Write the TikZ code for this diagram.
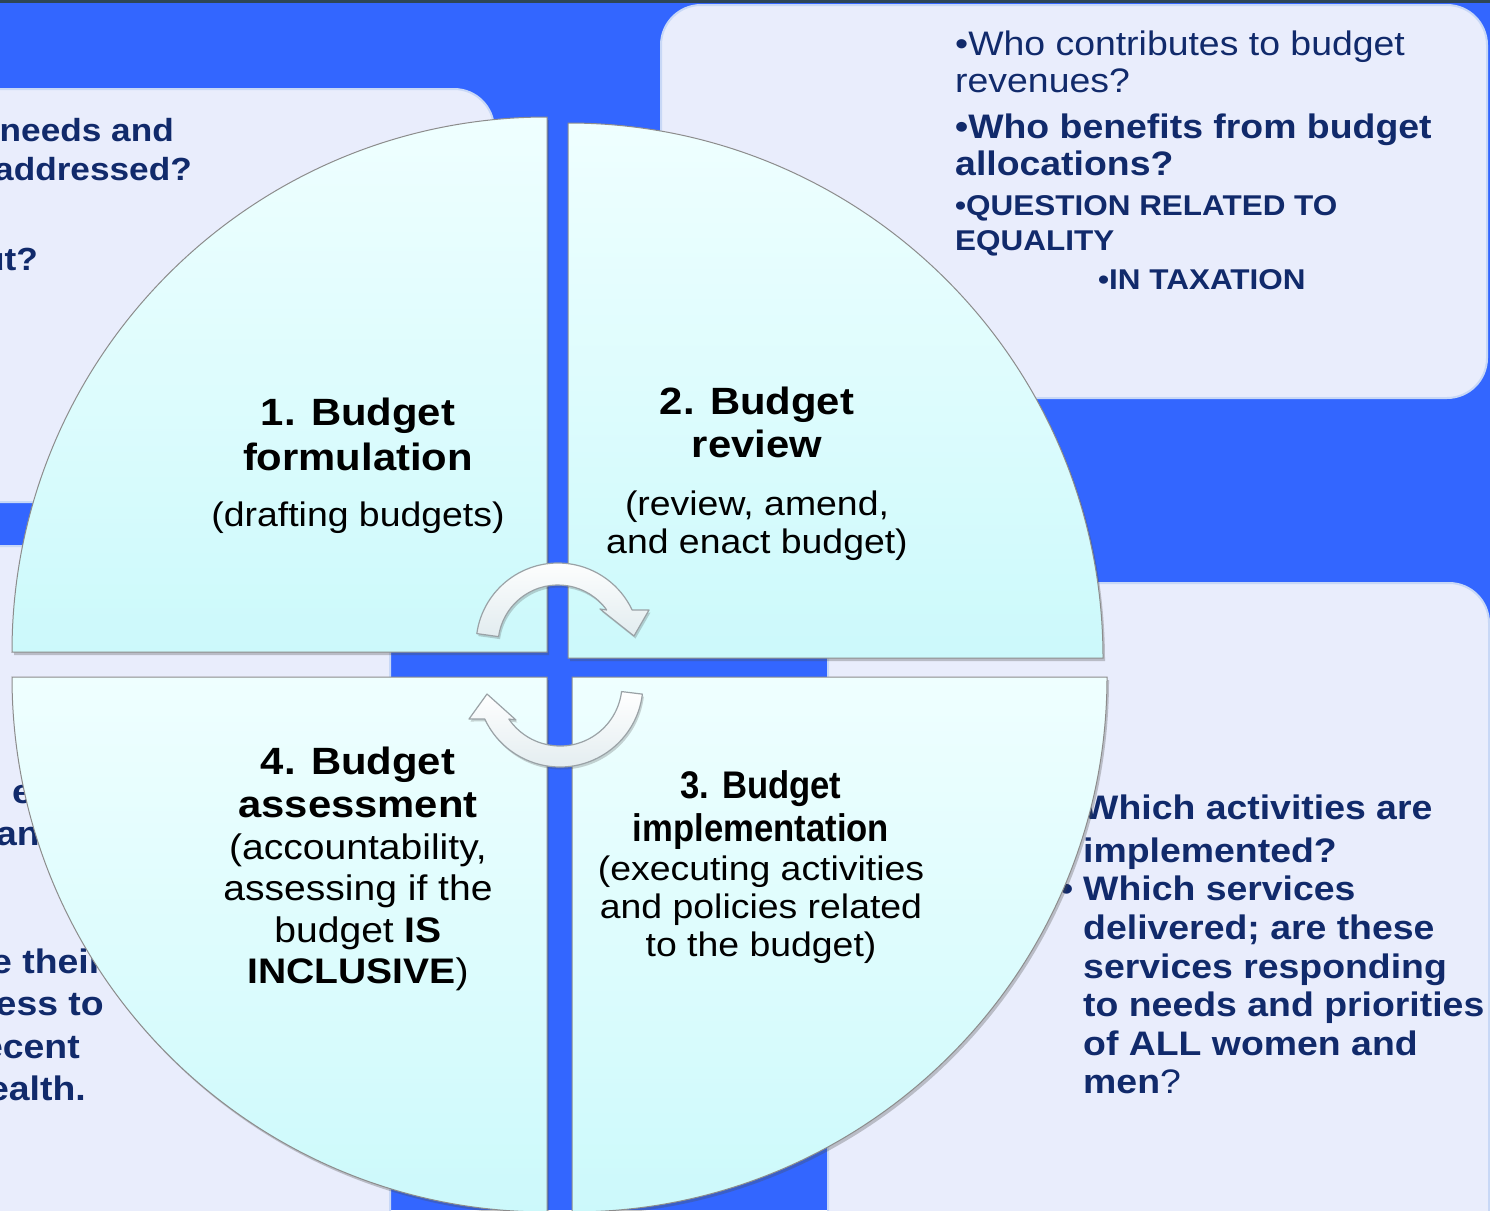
\documentclass[tikz,border=0pt]{standalone}
\usepackage{fontspec}
\setmainfont{Liberation Sans}[FakeStretch=1.1]
\newfontfamily\narrowfont{Liberation Sans}[FakeStretch=0.9]
\usetikzlibrary{shadows}

\definecolor{bgblue}{HTML}{3366FF}
\definecolor{topline}{HTML}{2E4656}
\definecolor{boxfill}{HTML}{E9EDFC}
\definecolor{boxedge}{HTML}{C8D8F6}
\definecolor{qtop}{HTML}{EFFFFF}
\definecolor{qbot}{HTML}{CCF9FB}
\definecolor{qedge}{HTML}{8C8C8C}
\definecolor{navy}{HTML}{112A6B}
\definecolor{arrbot}{HTML}{E2ECEF}
\definecolor{arredge}{HTML}{9AA2A6}

\tikzset{
  panel/.style={fill=boxfill, draw=boxedge, line width=2pt, rounded corners=40pt},
  sector/.style={draw=qedge, line width=1pt, top color=qtop, bottom color=qbot,
    drop shadow={shadow xshift=2pt, shadow yshift=-3pt, opacity=0.3, fill=black!70}},
  cyclearrow/.style={draw=arredge, line width=1.2pt, top color=white, bottom color=arrbot,
    line join=round,
    drop shadow={shadow xshift=1.5pt, shadow yshift=-2.5pt, opacity=0.25, fill=black!70}},
  ttl/.style={font=\fontsize{38}{40}\selectfont\bfseries, inner sep=0pt, anchor=base},
  ttlnarrow/.style={font=\narrowfont\fontsize{38.5}{40}\selectfont\bfseries, inner sep=0pt, anchor=base},
  sub/.style={font=\fontsize{34}{36}\selectfont, inner sep=0pt, anchor=base},
  subwide/.style={font=\fontsize{35.5}{37}\selectfont, inner sep=0pt, anchor=base},
  qtxt/.style={font=\fontsize{34}{36}\selectfont, text=navy, inner sep=0pt, anchor=base west},
  qtxtb/.style={qtxt, font=\fontsize{34}{36}\selectfont\bfseries},
  qcaps/.style={qtxt, font=\fontsize{28.6}{30}\selectfont\bfseries},
  qcut/.style={font=\fontsize{32}{34}\selectfont\bfseries, text=navy, inner sep=0pt, anchor=base east},
}

\begin{document}
\begin{tikzpicture}[x=1pt, y=1pt]
  \useasboundingbox (0,0) rectangle (1490,-1210);
  \clip (0,0) rectangle (1490,-1210);

  % slide background
  \fill[bgblue] (0,0) rectangle (1490,-1210);
  \fill[topline] (0,0) rectangle (1490,-2.5);

  % question panels
  \path[panel] (661,-5) rectangle (1487,-398);
  \path[panel] (-80,-89) rectangle (494,-502);
  \path[panel] (-80,-546) rectangle (390,-1300);
  \path[panel] (828,-583) rectangle (1489,-1300);

  % upper right panel
  \node[qtxt]  (r1) at (955,-55)    {•Who contributes to budget};
  \node[qtxt]  (r2) at (955,-92.7)  {revenues?};
  \node[qtxtb] (r3) at (955,-138.3) {•Who benefits from budget};
  \node[qtxtb] (r4) at (955,-175.7) {allocations?};
  \node[qcaps] (r5) at (955,-215.7) {•QUESTION RELATED TO};
  \node[qcaps] (r6) at (955,-250.7) {EQUALITY};
  \node[qcaps] (r7) at (1098,-289.3) {•IN TAXATION};

  % upper left panel
  \node[qcut] (l1) at (174,-141) {needs and};
  \node[qcut] (l2) at (192,-180) {addressed?};
  \node[qcut] (l3) at (38,-270)  {ut?};

  % lower left panel
  \node[qtxtb] (b1) at (12,-803)  {e};
  \node[qtxtb] (b2) at (-4,-845)  {and};
  \node[qtxtb, anchor=base west] (b3) at (-9,-973) {e their};
  \node[qtxtb, anchor=base east] (b4) at (104,-1015) {ess to};
  \node[qtxtb, anchor=base east] (b5) at (80,-1058)  {ecent};
  \node[qtxtb, anchor=base east] (b6) at (86,-1100)  {ealth.};

  % lower right panel
  \node[qtxtb] (s1) at (1083,-819)  {Which activities are};
  \node[qtxtb] (s2) at (1083,-862)  {implemented?};
  \node[qtxtb] (s3) at (1083,-900)  {\llap{•\hspace{10pt}}Which services};
  \node[qtxtb] (s4) at (1083,-939)  {delivered; are these};
  \node[qtxtb] (s5) at (1083,-978)  {services responding};
  \node[qtxtb] (s6) at (1083,-1016) {to needs and priorities};
  \node[qtxtb] (s7) at (1083,-1055) {of ALL women and};
  \node[qtxtb] (s8) at (1083,-1093) {men\textmd{?}};

  % the four budget-cycle quarters
  \path[sector] (547,-652) -- (12,-652)  arc[start angle=180, end angle=90,  radius=535] -- cycle;
  \path[sector] (568,-658) -- (568,-123) arc[start angle=90,  end angle=0,   radius=535] -- cycle;
  \path[sector] (572,-677) -- (1107,-677) arc[start angle=0,  end angle=-90, radius=535] -- cycle;
  \path[sector] (547,-677) -- (547,-1212) arc[start angle=270, end angle=180, radius=535] -- cycle;

  % quarter 1
  \node[ttl] (q1a) at (358,-425)   {1. Budget};
  \node[ttl] (q1b) at (358,-470)   {formulation};
  \node[sub] (q1c) at (358,-526.7) {(drafting budgets)};

  % quarter 2
  \node[ttl] (q2a) at (757,-414) {2. Budget};
  \node[ttl] (q2b) at (757,-457) {review};
  \node[sub] (q2c) at (757,-515) {(review, amend,};
  \node[sub] (q2d) at (757,-553) {and enact budget)};

  % quarter 3
  \node[ttlnarrow] (q3a) at (761,-798.3) {3. Budget};
  \node[ttlnarrow] (q3b) at (761,-841.7) {implementation};
  \node[sub] (q3c) at (761,-880)   {(executing activities};
  \node[sub] (q3d) at (761,-918.3) {and policies related};
  \node[sub] (q3e) at (761,-956.7) {to the budget)};

  % quarter 4
  \node[ttl] (q4a) at (358,-774) {4. Budget};
  \node[ttl] (q4b) at (358,-817) {assessment};
  \node[subwide] (q4c) at (358,-859) {(accountability,};
  \node[subwide] (q4d) at (358,-900) {assessing if the};
  \node[subwide] (q4e) at (358,-942) {budget \textbf{IS}};
  \node[subwide] (q4f) at (358,-983) {\textbf{INCLUSIVE})};

  % circular arrows in the middle
  \coordinate (c1) at (558,-645);
  \coordinate (c2) at (560,-684);
  \path[cyclearrow, shift={(c1)}]
    (172:60) -- (172:82) arc[start angle=172, end angle=25.3, radius=82]
    -- (91,35) -- (76,9) -- (42,36) -- (35.7:60)
    arc[start angle=35.7, end angle=172, radius=60] -- cycle;
  \path[cyclearrow, shift={(c2)}]
    (-7:62) -- (-7:83) arc[start angle=-7, end angle=-155.1, radius=83]
    -- (-91,-35) -- (-73,-10) -- (-44,-36) -- (-145.6:62)
    arc[start angle=-145.6, end angle=-7, radius=62] -- cycle;
\end{tikzpicture}
\end{document}
